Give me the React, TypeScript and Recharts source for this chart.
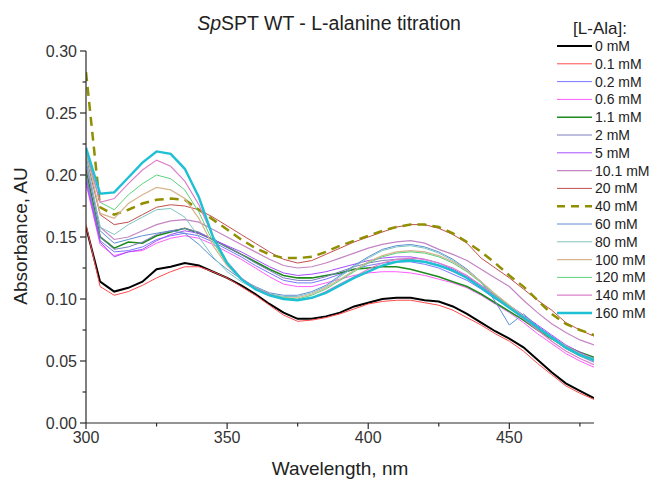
import React from "react";
import { LineChart, Line, XAxis, YAxis } from "recharts";

// Wavelength grid (nm)
const wavelengths = [
  300, 305, 310, 315, 320, 325, 330, 335, 340, 345, 350, 355, 360, 365, 370, 375, 380, 385, 390,
  395, 400, 405, 410, 415, 420, 425, 430, 435, 440, 445, 450, 455, 460, 465, 470, 475, 480,
];

// Absorbance spectra (AU) at each L-Ala concentration
const abs0 = [0.158, 0.114, 0.106, 0.109, 0.114, 0.124, 0.126, 0.129, 0.127, 0.122, 0.117, 0.111, 0.104, 0.096, 0.089, 0.084, 0.084, 0.086, 0.089, 0.094, 0.097, 0.1, 0.101, 0.101, 0.099, 0.098, 0.094, 0.088, 0.081, 0.074, 0.068, 0.061, 0.051, 0.041, 0.032, 0.026, 0.02];
const abs0_1 = [0.16, 0.11, 0.103, 0.106, 0.111, 0.117, 0.122, 0.126, 0.126, 0.122, 0.117, 0.11, 0.103, 0.095, 0.087, 0.082, 0.083, 0.085, 0.088, 0.092, 0.096, 0.098, 0.099, 0.099, 0.097, 0.095, 0.091, 0.085, 0.079, 0.072, 0.066, 0.058, 0.048, 0.039, 0.03, 0.024, 0.019];
const abs0_2 = [0.198, 0.147, 0.138, 0.139, 0.142, 0.148, 0.151, 0.153, 0.151, 0.146, 0.14, 0.134, 0.127, 0.121, 0.115, 0.113, 0.113, 0.116, 0.12, 0.124, 0.127, 0.129, 0.13, 0.13, 0.128, 0.125, 0.12, 0.115, 0.108, 0.1, 0.093, 0.085, 0.076, 0.068, 0.06, 0.054, 0.049];
const abs0_6 = [0.193, 0.144, 0.135, 0.138, 0.139, 0.145, 0.149, 0.151, 0.149, 0.144, 0.138, 0.132, 0.125, 0.118, 0.112, 0.11, 0.11, 0.113, 0.116, 0.119, 0.121, 0.122, 0.122, 0.121, 0.119, 0.116, 0.113, 0.109, 0.103, 0.096, 0.089, 0.081, 0.072, 0.064, 0.056, 0.05, 0.045];
const abs1_1 = [0.205, 0.15, 0.141, 0.146, 0.145, 0.151, 0.154, 0.157, 0.153, 0.148, 0.142, 0.136, 0.13, 0.124, 0.119, 0.117, 0.117, 0.119, 0.121, 0.124, 0.125, 0.126, 0.126, 0.124, 0.121, 0.118, 0.114, 0.11, 0.104, 0.097, 0.09, 0.083, 0.075, 0.068, 0.062, 0.057, 0.053];
const abs2 = [0.2, 0.15, 0.14, 0.142, 0.146, 0.152, 0.155, 0.157, 0.154, 0.148, 0.142, 0.136, 0.129, 0.123, 0.117, 0.115, 0.115, 0.118, 0.122, 0.126, 0.129, 0.131, 0.132, 0.132, 0.13, 0.127, 0.122, 0.117, 0.11, 0.102, 0.094, 0.086, 0.078, 0.07, 0.062, 0.056, 0.051];
const abs5 = [0.195, 0.146, 0.134, 0.138, 0.14, 0.147, 0.152, 0.155, 0.153, 0.148, 0.143, 0.138, 0.132, 0.126, 0.121, 0.119, 0.12, 0.122, 0.125, 0.128, 0.131, 0.133, 0.134, 0.134, 0.132, 0.129, 0.124, 0.118, 0.111, 0.103, 0.095, 0.087, 0.079, 0.071, 0.063, 0.057, 0.052];
const abs10_1 = [0.208, 0.158, 0.148, 0.15, 0.155, 0.16, 0.163, 0.164, 0.162, 0.156, 0.15, 0.144, 0.138, 0.132, 0.127, 0.125, 0.126, 0.129, 0.133, 0.137, 0.141, 0.144, 0.146, 0.147, 0.145, 0.14, 0.136, 0.131, 0.124, 0.117, 0.11, 0.099, 0.089, 0.08, 0.073, 0.067, 0.063];
const abs20 = [0.215, 0.168, 0.16, 0.162, 0.168, 0.174, 0.176, 0.175, 0.172, 0.166, 0.159, 0.152, 0.145, 0.138, 0.132, 0.129, 0.131, 0.136, 0.141, 0.146, 0.15, 0.154, 0.158, 0.16, 0.16, 0.157, 0.152, 0.145, 0.133, 0.125, 0.117, 0.108, 0.099, 0.091, 0.081, 0.075, 0.07];
const abs40 = [0.283, 0.174, 0.168, 0.172, 0.177, 0.18, 0.181, 0.18, 0.172, 0.164, 0.156, 0.148, 0.141, 0.136, 0.133, 0.133, 0.134, 0.138, 0.143, 0.147, 0.151, 0.155, 0.158, 0.16, 0.16, 0.158, 0.153, 0.146, 0.138, 0.129, 0.119, 0.11, 0.099, 0.088, 0.08, 0.075, 0.071];
const abs60 = [0.212, 0.155, 0.145, 0.148, 0.151, 0.153, 0.155, 0.153, 0.144, 0.133, 0.124, 0.116, 0.11, 0.105, 0.103, 0.103, 0.106, 0.111, 0.119, 0.127, 0.134, 0.14, 0.143, 0.144, 0.142, 0.138, 0.132, 0.124, 0.114, 0.098, 0.079, 0.088, 0.078, 0.069, 0.061, 0.055, 0.05];
const abs80 = [0.215, 0.158, 0.152, 0.16, 0.166, 0.172, 0.173, 0.166, 0.15, 0.134, 0.122, 0.114, 0.108, 0.104, 0.102, 0.102, 0.105, 0.11, 0.118, 0.126, 0.133, 0.139, 0.142, 0.143, 0.141, 0.137, 0.131, 0.123, 0.114, 0.104, 0.095, 0.086, 0.077, 0.068, 0.061, 0.055, 0.05];
const abs100 = [0.22, 0.169, 0.165, 0.177, 0.184, 0.19, 0.188, 0.181, 0.165, 0.143, 0.127, 0.116, 0.109, 0.104, 0.101, 0.101, 0.104, 0.109, 0.116, 0.123, 0.13, 0.135, 0.138, 0.139, 0.138, 0.135, 0.13, 0.123, 0.114, 0.104, 0.095, 0.086, 0.077, 0.069, 0.062, 0.056, 0.052];
const abs120 = [0.218, 0.178, 0.172, 0.184, 0.193, 0.2, 0.197, 0.188, 0.17, 0.146, 0.128, 0.116, 0.109, 0.104, 0.101, 0.1, 0.103, 0.108, 0.115, 0.122, 0.129, 0.134, 0.137, 0.138, 0.137, 0.134, 0.129, 0.122, 0.113, 0.103, 0.094, 0.085, 0.076, 0.068, 0.06, 0.054, 0.05];
const abs140 = [0.22, 0.178, 0.181, 0.193, 0.204, 0.212, 0.207, 0.195, 0.176, 0.15, 0.13, 0.117, 0.109, 0.104, 0.1, 0.099, 0.101, 0.106, 0.112, 0.118, 0.124, 0.129, 0.132, 0.133, 0.132, 0.129, 0.125, 0.119, 0.111, 0.102, 0.093, 0.084, 0.075, 0.066, 0.058, 0.052, 0.047];
const abs160 = [0.222, 0.185, 0.186, 0.198, 0.21, 0.219, 0.217, 0.205, 0.182, 0.15, 0.129, 0.116, 0.108, 0.103, 0.1, 0.099, 0.101, 0.105, 0.111, 0.117, 0.122, 0.127, 0.13, 0.131, 0.13, 0.127, 0.123, 0.117, 0.109, 0.101, 0.093, 0.085, 0.077, 0.069, 0.061, 0.055, 0.051];

// Axis ticks (major ticks carry labels, the in-between ones are minor)
const xTicks = [300, 325, 350, 375, 400, 425, 450, 475];
const xMajor = [300, 350, 400, 450];
const yTicks = [0, 0.025, 0.05, 0.075, 0.1, 0.125, 0.15, 0.175, 0.2, 0.225, 0.25, 0.275, 0.3];
const yMajor = [0, 0.05, 0.1, 0.15, 0.2, 0.25, 0.3];

const concLabels = ["0 mM", "0.1 mM", "0.2 mM", "0.6 mM", "1.1 mM", "2 mM", "5 mM", "10.1 mM", "20 mM", "40 mM", "60 mM", "80 mM", "100 mM", "120 mM", "140 mM", "160 mM"];
const seriesValues = [abs0, abs0_1, abs0_2, abs0_6, abs1_1, abs2, abs5, abs10_1, abs20, abs40, abs60, abs80, abs100, abs120, abs140, abs160];

type Style = { color: string; width: number; dash?: string };
const styles: Style[] = [
  { color: "#000000", width: 2 },
  { color: "#ff4a4a", width: 1 },
  { color: "#7878ff", width: 1 },
  { color: "#ff5cff", width: 1 },
  { color: "#1d8a1d", width: 1.6 },
  { color: "#7d7dbd", width: 1 },
  { color: "#a64dff", width: 1 },
  { color: "#c385c3", width: 1.2 },
  { color: "#c0504d", width: 1 },
  { color: "#8f8f00", width: 2.5, dash: "9 6" },
  { color: "#5e90d2", width: 1 },
  { color: "#7fc4c4", width: 1 },
  { color: "#d8b48e", width: 1.2 },
  { color: "#5cd27c", width: 1 },
  { color: "#de7fc8", width: 1.2 },
  { color: "#1ec0d4", width: 2.4 },
];

const keys = concLabels.map((_, i) => `s${i}`);

const data = wavelengths.map((wl, i) => {
  const row: Record<string, number> = { wl };
  seriesValues.forEach((vals, s) => {
    row[keys[s]] = vals[i];
  });
  return row;
});

const FONT = "'Liberation Sans', Arial, sans-serif";
const AXIS = "#2b2b2b";

const XTick = (props: any) => {
  const { x, y, payload } = props;
  const major = xMajor.includes(payload.value);
  return (
    <g>
      <line x1={x} x2={x} y1={y} y2={y + (major ? 6 : 3.5)} stroke={AXIS} strokeWidth={1.2} />
      {major && (
        <text x={x} y={y + 20} textAnchor="middle" fontSize={16} fill="#333" fontFamily={FONT}>
          {payload.value}
        </text>
      )}
    </g>
  );
};

const YTick = (props: any) => {
  const { x, y, payload } = props;
  const major = yMajor.some((m) => Math.abs(m - payload.value) < 1e-9);
  return (
    <g>
      <line x1={x - (major ? 6 : 3.5)} x2={x} y1={y} y2={y} stroke={AXIS} strokeWidth={1.2} />
      {major && (
        <text x={x - 9} y={y} dy="0.36em" textAnchor="end" fontSize={16} fill="#333" fontFamily={FONT}>
          {payload.value.toFixed(2)}
        </text>
      )}
    </g>
  );
};

export default function App() {
  return (
    <div style={{ position: "absolute", left: 0, top: 0, width: 651, height: 486, background: "#fff", fontFamily: FONT }}>
      <LineChart width={651} height={486} data={data} margin={{ top: 51, right: 57, bottom: 33, left: 0 }}>
        <XAxis
          dataKey="wl"
          type="number"
          domain={[300, 480]}
          ticks={xTicks}
          interval={0}
          allowDataOverflow
          tickLine={false}
          tickSize={0}
          tickMargin={0}
          height={30}
          axisLine={{ stroke: AXIS, strokeWidth: 1.2 }}
          tick={<XTick />}
        />
        <YAxis
          type="number"
          domain={[0, 0.3]}
          ticks={yTicks}
          interval={0}
          allowDataOverflow
          tickLine={false}
          tickSize={0}
          tickMargin={0}
          width={86}
          axisLine={{ stroke: AXIS, strokeWidth: 1.2 }}
          tick={<YTick />}
        />
        {keys.map((k, i) => (
          <Line
            key={k}
            dataKey={k}
            name={concLabels[i]}
            type="linear"
            stroke={styles[i].color}
            strokeWidth={styles[i].width}
            strokeDasharray={styles[i].dash}
            dot={false}
            activeDot={false}
            isAnimationActive={false}
          />
        ))}
      </LineChart>
      <svg width={651} height={486} style={{ position: "absolute", left: 0, top: 0, pointerEvents: "none" }}>
        <text x={329} y={30} textAnchor="middle" fontSize={19.5} fill="#222" fontFamily={FONT}>
          <tspan fontStyle="italic">Sp</tspan>SPT WT - L-alanine titration
        </text>
        <text x={340} y={475} textAnchor="middle" fontSize={19} fill="#222" fontFamily={FONT}>
          Wavelength, nm
        </text>
        <text
          x={0}
          y={0}
          transform="translate(27 236) rotate(-90)"
          textAnchor="middle"
          fontSize={19}
          fill="#222"
          fontFamily={FONT}
        >
          Absorbance, AU
        </text>
        <text x={600} y={34} textAnchor="middle" fontSize={17} fill="#222" fontFamily={FONT}>
          [L-Ala]:
        </text>
        {concLabels.map((lab, i) => {
          const cy = 46 + i * 17.8;
          const st = styles[i];
          return (
            <g key={lab}>
              <line
                x1={557}
                x2={592}
                y1={cy}
                y2={cy}
                stroke={st.color}
                strokeWidth={st.width}
                strokeDasharray={st.dash ? "8 6" : undefined}
              />
              <text x={595} y={cy} dy="0.36em" fontSize={14} fill="#222" fontFamily={FONT}>
                {lab}
              </text>
            </g>
          );
        })}
      </svg>
    </div>
  );
}
